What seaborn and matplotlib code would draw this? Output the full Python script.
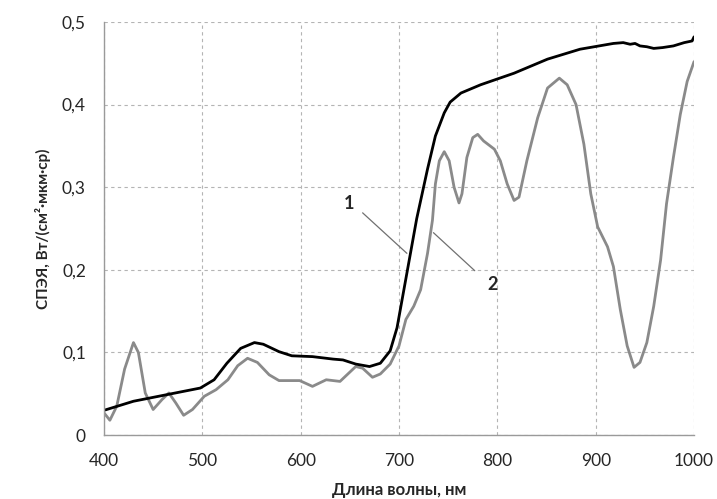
import matplotlib
matplotlib.use("Agg")
import matplotlib.pyplot as plt
import seaborn as sns
import pandas as pd

# curve 1 (black)
wl_1 = [400, 430, 464, 498, 512, 525, 539, 553, 562, 578, 591, 612, 633, 643, 656, 670,
        681, 691, 698, 708, 718, 729, 737, 746, 752, 763, 783, 817, 851, 884, 918,
        928, 935, 940, 945, 952, 959, 968, 979, 990, 998, 1000]
val_1 = [0.030, 0.041, 0.049, 0.057, 0.067, 0.087, 0.105, 0.112, 0.110, 0.101, 0.096,
         0.095, 0.092, 0.091, 0.086, 0.083, 0.087, 0.102, 0.130, 0.196, 0.262, 0.322,
         0.362, 0.390, 0.403, 0.414, 0.424, 0.438, 0.455, 0.467, 0.474, 0.475, 0.473,
         0.474, 0.471, 0.470, 0.468, 0.469, 0.471, 0.475, 0.477, 0.482]

# curve 2 (grey)
wl_2 = [400, 406, 413, 421, 430, 435, 442, 450, 459, 466, 473, 481, 490, 502, 514, 526,
        536, 546, 556, 568, 578, 599, 612, 626, 640, 656, 663, 673, 681, 691, 700, 707,
        715, 722, 729, 734, 737, 741, 746, 751, 756, 761, 764, 769, 775, 780, 786, 797,
        803, 810, 817, 822, 830, 841, 851, 863, 871, 880, 888, 895, 902, 912, 918, 925,
        932, 939, 945, 952, 959, 966, 972, 979, 986, 993, 1000]
val_2 = [0.027, 0.018, 0.035, 0.080, 0.112, 0.100, 0.051, 0.031, 0.043, 0.051, 0.039,
         0.024, 0.031, 0.047, 0.055, 0.067, 0.084, 0.093, 0.088, 0.073, 0.066, 0.066,
         0.059, 0.067, 0.065, 0.083, 0.081, 0.070, 0.074, 0.086, 0.108, 0.140, 0.156,
         0.176, 0.220, 0.260, 0.304, 0.332, 0.343, 0.332, 0.300, 0.281, 0.292, 0.336,
         0.360, 0.364, 0.356, 0.346, 0.332, 0.304, 0.284, 0.288, 0.332, 0.384, 0.420,
         0.432, 0.424, 0.400, 0.352, 0.292, 0.252, 0.228, 0.204, 0.152, 0.108, 0.082,
         0.088, 0.112, 0.156, 0.212, 0.280, 0.336, 0.388, 0.428, 0.452]

x_ticks = [400, 500, 600, 700, 800, 900, 1000]
y_ticks = [0, 0.1, 0.2, 0.3, 0.4, 0.5]
y_labels = ["0", "0,1", "0,2", "0,3", "0,4", "0,5"]

df1 = pd.DataFrame({"wl": wl_1, "val": val_1})
df2 = pd.DataFrame({"wl": wl_2, "val": val_2})

sns.set_style("white")
plt.rcParams['font.family'] = ['Lato', 'DejaVu Sans']

fig = plt.figure(figsize=(7.17, 4.99), dpi=100)
ax = fig.add_axes([0.145, 0.128, 0.823, 0.828])

sns.lineplot(data=df2, x="wl", y="val", color="#8a8a8a", linewidth=2.0, ax=ax)
sns.lineplot(data=df1, x="wl", y="val", color="black", linewidth=2.0, ax=ax)

ax.set_xlim(400, 1000)
ax.set_ylim(0, 0.5)
ax.set_xticks(x_ticks)
ax.set_xticklabels([str(t) for t in x_ticks], fontsize=12.5)
ax.set_yticks(y_ticks)
ax.set_yticklabels(y_labels, fontsize=12.5)
ax.grid(True, linestyle=(0, (3, 3)), color="#b4b4b4", linewidth=0.8)
for s in ["top", "right"]:
    ax.spines[s].set_visible(False)
for s in ["left", "bottom"]:
    ax.spines[s].set_color("#9a9a9a")
    ax.spines[s].set_linewidth(1.0)
ax.tick_params(axis="both", direction="out", length=5, color="#9a9a9a", width=1, pad=8)

ax.set_xlabel("Длина волны, нм", fontsize=12, fontweight="bold", labelpad=9)
ax.set_ylabel("СПЭЯ, Вт/(см²·мкм·ср)", fontsize=11, fontweight="bold", labelpad=8)

# curve labels with leader lines
ax.plot([663, 708], [0.269, 0.220], color="#707070", linewidth=0.9)
ax.text(649, 0.280, "1", fontsize=13, fontweight="bold", ha="center", va="center")
ax.plot([735, 777], [0.245, 0.199], color="#707070", linewidth=0.9)
ax.text(795, 0.182, "2", fontsize=13, fontweight="bold", ha="center", va="center")

plt.savefig("out.png", dpi=100)
plt.close()
